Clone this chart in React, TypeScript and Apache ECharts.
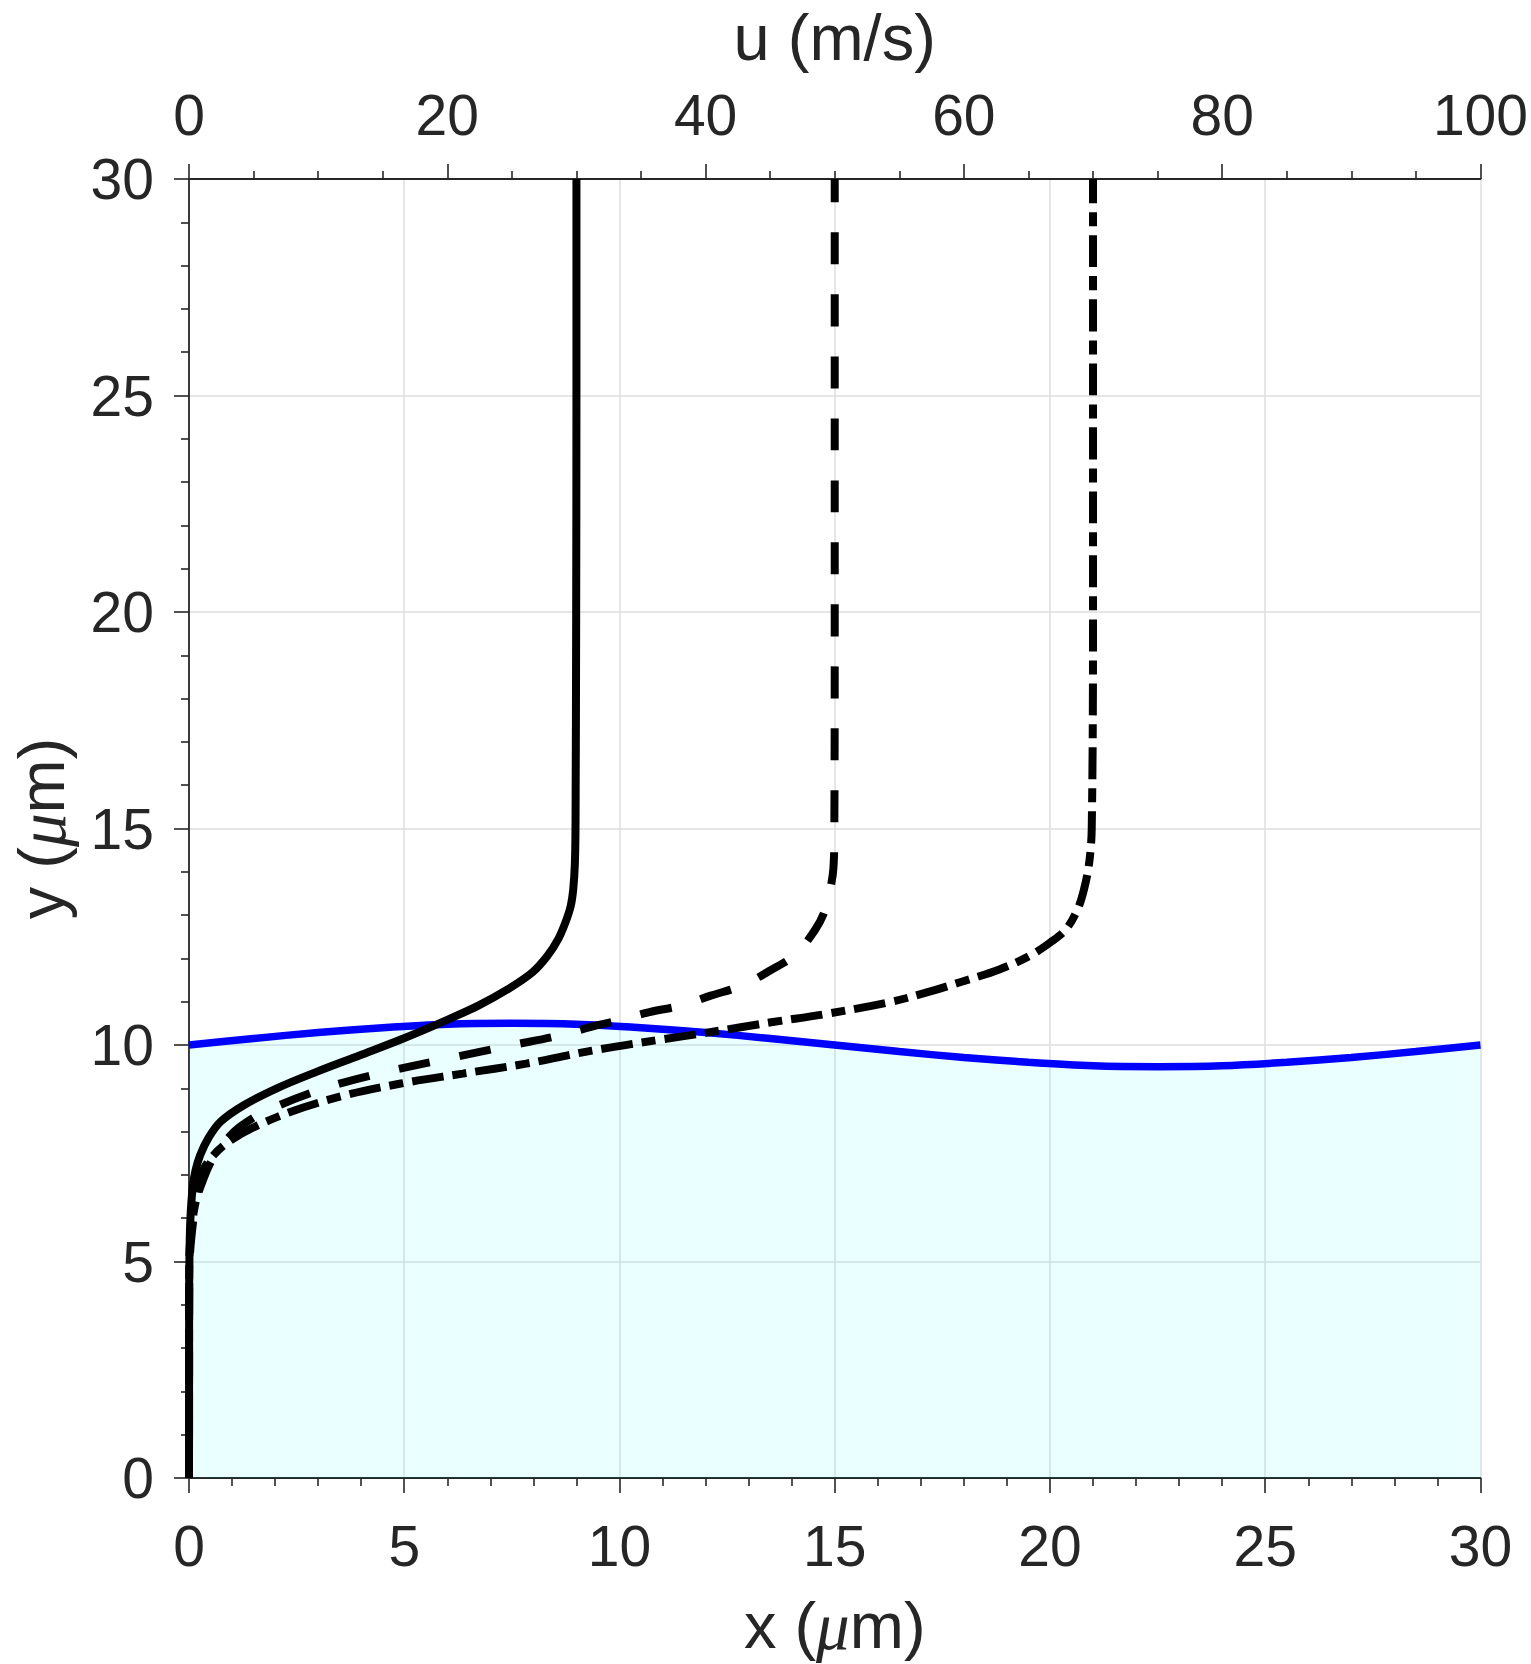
import React, { useEffect, useRef } from 'react';
import * as echarts from 'echarts';

// Interface (blue) : x in micrometres, y in micrometres
const interfaceX = [0, 1.5, 3, 4.5, 6, 7.5, 9, 10.5, 12, 13.5, 15, 16.5, 18, 19.5, 21, 22.5, 24, 25.5, 27, 28.5, 30];
const interfaceY = [10, 10.15, 10.29, 10.4, 10.48, 10.5, 10.48, 10.4, 10.29, 10.15, 10.0, 9.85, 9.71, 9.6, 9.52, 9.5, 9.52, 9.6, 9.71, 9.85, 10.0];

// Velocity profiles: y (micrometres) vs u (m/s)
const solidY = [0, 2, 4, 5, 5.93, 6.7, 7.1, 7.46, 7.85, 8.23, 8.61, 9.0, 9.38, 9.76, 10.14, 10.53, 10.91, 11.29, 11.68, 12.06, 12.45, 12.83, 13.2, 13.59, 14.2, 15.13, 20, 25, 30];
const solidU = [0, 0.005, 0.01, 0.03, 0.1, 0.28, 0.5, 0.87, 1.5, 2.45, 4.24, 6.8, 9.87, 13.2, 16.5, 19.6, 22.4, 24.7, 26.6, 27.76, 28.6, 29.15, 29.55, 29.75, 29.88, 29.93, 29.98, 30, 30];

const dashedY = [0, 2, 4, 5, 6.0, 6.5, 6.89, 7.3, 7.7, 8.1, 8.48, 9.01, 9.39, 9.69, 9.99, 10.22, 10.4, 10.57, 10.76, 10.91, 11.14, 11.37, 11.72, 12.1, 12.67, 13.0, 13.4, 14.09, 15, 20, 25, 30];
const dashedU = [0, 0.005, 0.01, 0.05, 0.35, 0.65, 1.1, 1.7, 2.6, 3.9, 6.0, 10.6, 15.4, 20.1, 24.9, 28.7, 30.9, 33.3, 35.65, 38.1, 40.4, 42.8, 45.0, 47.0, 48.5, 49.1, 49.5, 49.9, 49.97, 50, 50, 50];

const dashdotY = [0, 2, 4, 5, 5.8, 6.5, 7.16, 7.77, 8.34, 8.8, 9.11, 9.34, 9.57, 9.87, 10.12, 10.28, 10.53, 10.72, 11.0, 11.22, 11.45, 11.75, 12.06, 12.37, 12.67, 13.13, 13.59, 14.2, 15, 20, 25, 30];
const dashdotU = [0, 0.005, 0.01, 0.02, 0.2, 0.6, 1.17, 3.1, 6.85, 11.6, 16.4, 21.2, 26.1, 31.2, 36.4, 40.0, 45.2, 49.4, 54.4, 57.2, 59.7, 62.8, 65.1, 66.7, 67.9, 68.8, 69.3, 69.7, 69.9, 70, 70, 70];

const xRange = [0, 30];
const uRange = [0, 100];
const yRange = [0, 30];

const TXT = '#262626';
const FONT = "'Liberation Sans', Arial, Helvetica, sans-serif";
const TICK_FS = 57;
const NAME_FS = 65;

const pairs = (xs: number[], ys: number[]) => xs.map((v, i) => [v, ys[i]]);

export default function App() {
  const ref = useRef<HTMLDivElement>(null);
  useEffect(() => {
    document.body.style.margin = '0';
    const chart = echarts.init(ref.current!, null, { renderer: 'svg' });
    const nameStyle = {
      fontSize: NAME_FS,
      color: TXT,
      fontFamily: FONT,
      rich: {
        mu: { fontStyle: 'italic', fontFamily: "'Liberation Serif', 'DejaVu Serif', serif", fontSize: NAME_FS + 2, color: TXT },
      },
    };
    const axisLine = { show: true, lineStyle: { color: TXT, width: 1.8 } };
    const axisTick = { show: true, inside: false, length: 15, lineStyle: { color: TXT, width: 1.6 } };
    const labelStyle = (margin: number) => ({ show: true, fontSize: TICK_FS, color: TXT, fontFamily: FONT, margin });
    const grid = { show: true, lineStyle: { color: '#dedede', width: 1.5 } };
    chart.setOption({
      animation: false,
      backgroundColor: '#ffffff',
      grid: { left: 178, top: 173, right: 49, bottom: 186, containLabel: false },
      xAxis: [
        {
          type: 'value', position: 'bottom', min: xRange[0], max: xRange[1], interval: 5,
          name: 'x ({mu|μ}m)', nameLocation: 'middle', nameGap: 114, nameTextStyle: nameStyle,
          axisLine, axisTick, axisLabel: labelStyle(39),
          minorTick: { show: true, splitNumber: 5, length: 8, lineStyle: { color: TXT, width: 1.6 } },
          splitLine: grid,
        },
        {
          type: 'value', position: 'top', min: uRange[0], max: uRange[1], interval: 20,
          name: 'u (m/s)', nameLocation: 'middle', nameGap: 109, nameTextStyle: nameStyle,
          axisLine, axisTick, axisLabel: labelStyle(36),
          minorTick: { show: true, splitNumber: 4, length: 8, lineStyle: { color: TXT, width: 1.6 } },
          splitLine: { show: false },
        },
      ],
      yAxis: [
        {
          type: 'value', position: 'left', min: yRange[0], max: yRange[1], interval: 5,
          name: 'y ({mu|μ}m)', nameLocation: 'middle', nameGap: 114, nameTextStyle: nameStyle,
          axisLine, axisTick, axisLabel: labelStyle(35),
          minorTick: { show: true, splitNumber: 5, length: 8, lineStyle: { color: TXT, width: 1.6 } },
          splitLine: grid,
        },
      ],
      series: [
        {
          type: 'line', name: 'interface', xAxisIndex: 0, yAxisIndex: 0,
          data: pairs(interfaceX, interfaceY), smooth: 0.3, symbol: 'none', clip: false,
          lineStyle: { color: '#0000ff', width: 7.5 },
          areaStyle: { color: 'rgba(0,255,255,0.12)', origin: 'start' },
        },
        {
          type: 'line', name: 'solid', xAxisIndex: 1, yAxisIndex: 0,
          data: pairs(solidU, solidY), smooth: 0.35, symbol: 'none', clip: false,
          lineStyle: { color: '#000000', width: 8, type: 'solid' },
        },
        {
          type: 'line', name: 'dashed', xAxisIndex: 1, yAxisIndex: 0,
          data: pairs(dashedU, dashedY), smooth: 0.35, symbol: 'none', clip: false,
          lineStyle: { color: '#000000', width: 8, type: [32, 30], dashOffset: 23, cap: 'butt' },
        },
        {
          type: 'line', name: 'dashdot', xAxisIndex: 1, yAxisIndex: 0,
          data: pairs(dashdotU, dashdotY), smooth: 0.35, symbol: 'none', clip: false,
          lineStyle: { color: '#000000', width: 8, type: [32, 9, 14, 9], dashOffset: 34, cap: 'butt' },
        },
      ],
    });
    return () => chart.dispose();
  }, []);
  return <div ref={ref} style={{ width: 1531, height: 1664 }} />;
}
